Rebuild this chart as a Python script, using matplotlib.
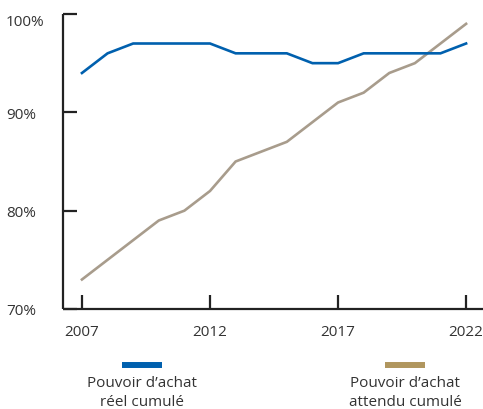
import matplotlib
matplotlib.use("Agg")
import matplotlib.pyplot as plt
from matplotlib.lines import Line2D

plt.rcParams['font.family'] = ['Open Sans', 'DejaVu Sans']

years = list(range(2007, 2023))
reel = [94, 96, 97, 97, 97, 97, 96, 96, 96, 95, 95, 96, 96, 96, 96, 97]
attendu = [73, 75, 77, 79, 80, 82, 85, 86, 87, 89, 91, 92, 94, 95, 97, 99]
xticks = [2007, 2012, 2017, 2022]
yticks = [70, 80, 90, 100]
labels = ["Pouvoir d\u2019achat\nréel cumulé", "Pouvoir d\u2019achat\nattendu cumulé"]

blue = "#0060ae"
grey = "#a89c8c"
gold = "#b0965e"
dark = "#222222"
txt = "#333333"

W, H = 483, 410
fig = plt.figure(figsize=(W / 100, H / 100), dpi=100)
ax = fig.add_axes([63 / W, 1 - 310 / H, 1 - 63 / W, (310 - 15) / H])

ax.plot(years, attendu, color=grey, lw=1.9, solid_joinstyle='miter')
ax.plot(years, reel, color=blue, lw=1.9, solid_joinstyle='miter')

ax.set_xlim(2006.26, 2022.66)
ax.set_ylim(70, 100)

for s in ['top', 'right']:
    ax.spines[s].set_visible(False)
for s in ['left', 'bottom']:
    ax.spines[s].set_color(dark)
    ax.spines[s].set_linewidth(1.6)
    ax.spines[s].set_capstyle('butt')

ax.set_xticks(xticks)
ax.set_xticklabels([str(y) for y in xticks])
ax.set_yticks(yticks)
ax.set_yticklabels([f"{v}%" for v in yticks])
ax.tick_params(axis='both', direction='in', length=10, width=1.6, color=dark,
               labelsize=11, labelcolor=txt)
ax.tick_params(axis='x', pad=11)
ax.tick_params(axis='y', pad=41)
for lab in ax.get_yticklabels():
    lab.set_horizontalalignment('left')
ax.get_yticklabels()[-1].set_verticalalignment('top')

# legend drawn below the axis
for cx, col, lab in [(142, blue, labels[0]), (405, gold, labels[1])]:
    fig.add_artist(Line2D([(cx - 20) / W, (cx + 20) / W], [1 - 366 / H] * 2,
                          transform=fig.transFigure, color=col, lw=4.3,
                          solid_capstyle='butt'))
    fig.text(cx / W, 1 - 376 / H, lab, ha='center', va='top', fontsize=11,
             color=txt, linespacing=1.35)

fig.savefig("out.png", dpi=100)
